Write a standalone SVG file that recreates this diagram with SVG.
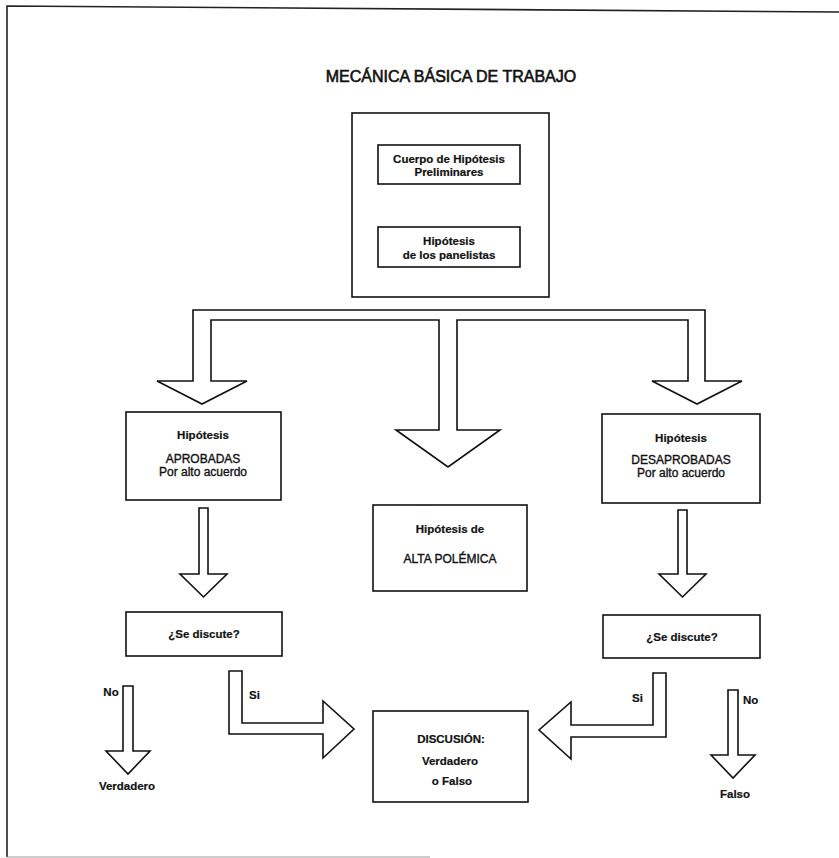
<svg xmlns="http://www.w3.org/2000/svg" width="839" height="858" viewBox="0 0 839 858">
<defs>
<style>
.box{fill:#fff;stroke:#111;stroke-width:1.6}
.arr{fill:#fff;stroke:#111;stroke-width:1.6;stroke-linejoin:miter}
.frame{fill:none;stroke:#222;stroke-width:1.6}
text{font-family:"Liberation Sans",Arial,sans-serif;fill:#111;text-anchor:middle}
.b{font-weight:bold;font-size:11.5px;stroke:#111;stroke-width:0.2}
.r{font-size:12px;stroke:#111;stroke-width:0.35}
.t{font-size:16px;stroke:#111;stroke-width:0.6}
.l{text-anchor:start}
</style>
</defs>
<rect width="839" height="858" fill="#fff"/>
<g id="frame">
<path class="frame" d="M839,12 L7,6 L7,857"/>
<path d="M7,857 L430,857" stroke="#999" stroke-width="1.2" fill="none"/>
</g>
<text class="t" x="451" y="82">MECÁNICA BÁSICA DE TRABAJO</text>
<g id="connectors">
<path class="arr" d="M193,381 L193,310 L705,310 L705,381 L742,381 L697,404 L652,381 L688,381 L688,320 L457,320 L457,430 L500,430 L448,467 L396,430 L439,430 L439,320 L211,320 L211,381 L247,381 L202,404 L157,381 Z"/>
<path class="arr" d="M199,508 L208,508 L208,574 L227,574 L203.5,597 L180,574 L199,574 Z"/>
<path class="arr" d="M678,510 L687,510 L687,574 L706,574 L682.5,597 L659,574 L678,574 Z"/>
<path class="arr" d="M123,686 L133,686 L133,751 L150,751 L128,774 L106,751 L123,751 Z"/>
<path class="arr" d="M728,690 L738,690 L738,755 L755,755 L733,778 L711,755 L728,755 Z"/>
<path class="arr" d="M229,671 L242,671 L242,723 L323,723 L323,701 L354,729 L323,758 L323,734 L229,734 Z"/>
<path class="arr" d="M666,673 L653,673 L653,725 L571,725 L571,702 L539,730 L571,759 L571,737 L666,737 Z"/>
<text class="b" x="111" y="696">No</text>
<text class="b" x="127" y="790">Verdadero</text>
<text class="b l" x="249" y="699">Si</text>
<text class="b l" x="632" y="702">Si</text>
<text class="b l" x="743" y="704">No</text>
<text class="b" x="735" y="798">Falso</text>
</g>
<g id="top">
<rect class="box" x="352" y="113" width="197" height="184"/>
</g>
<g id="preliminares">
<rect class="box" x="378" y="145" width="142" height="39"/>
<text class="b" x="449" y="163">Cuerpo de Hipótesis</text>
<text class="b" x="449" y="176">Preliminares</text>
</g>
<g id="panelistas">
<rect class="box" x="378" y="227" width="142" height="40"/>
<text class="b" x="449" y="245">Hipótesis</text>
<text class="b" x="449" y="259">de los panelistas</text>
</g>
<g id="aprobadas">
<rect class="box" x="126" y="412" width="155" height="88"/>
<text class="b" x="203" y="439">Hipótesis</text>
<text class="r" x="203" y="463">APROBADAS</text>
<text class="r" x="203" y="476">Por alto acuerdo</text>
</g>
<g id="polemica">
<rect class="box" x="373" y="505" width="154" height="86"/>
<text class="b" x="450" y="533">Hipótesis de</text>
<text class="r" x="450" y="563">ALTA POLÉMICA</text>
</g>
<g id="desaprobadas">
<rect class="box" x="602" y="414" width="158" height="89"/>
<text class="b" x="681" y="442">Hipótesis</text>
<text class="r" x="681" y="464">DESAPROBADAS</text>
<text class="r" x="681" y="477">Por alto acuerdo</text>
</g>
<g id="discute-left">
<rect class="box" x="126" y="612" width="156" height="44"/>
<text class="b" x="204" y="638">¿Se discute?</text>
</g>
<g id="discute-right">
<rect class="box" x="603" y="615" width="157" height="43"/>
<text class="b" x="682" y="641">¿Se discute?</text>
</g>
<g id="discusion">
<rect class="box" x="373" y="711" width="155" height="91"/>
<text class="b" x="451" y="743">DISCUSIÓN:</text>
<text class="b" x="450" y="765">Verdadero</text>
<text class="b" x="452" y="785">o Falso</text>
</g>
</svg>
